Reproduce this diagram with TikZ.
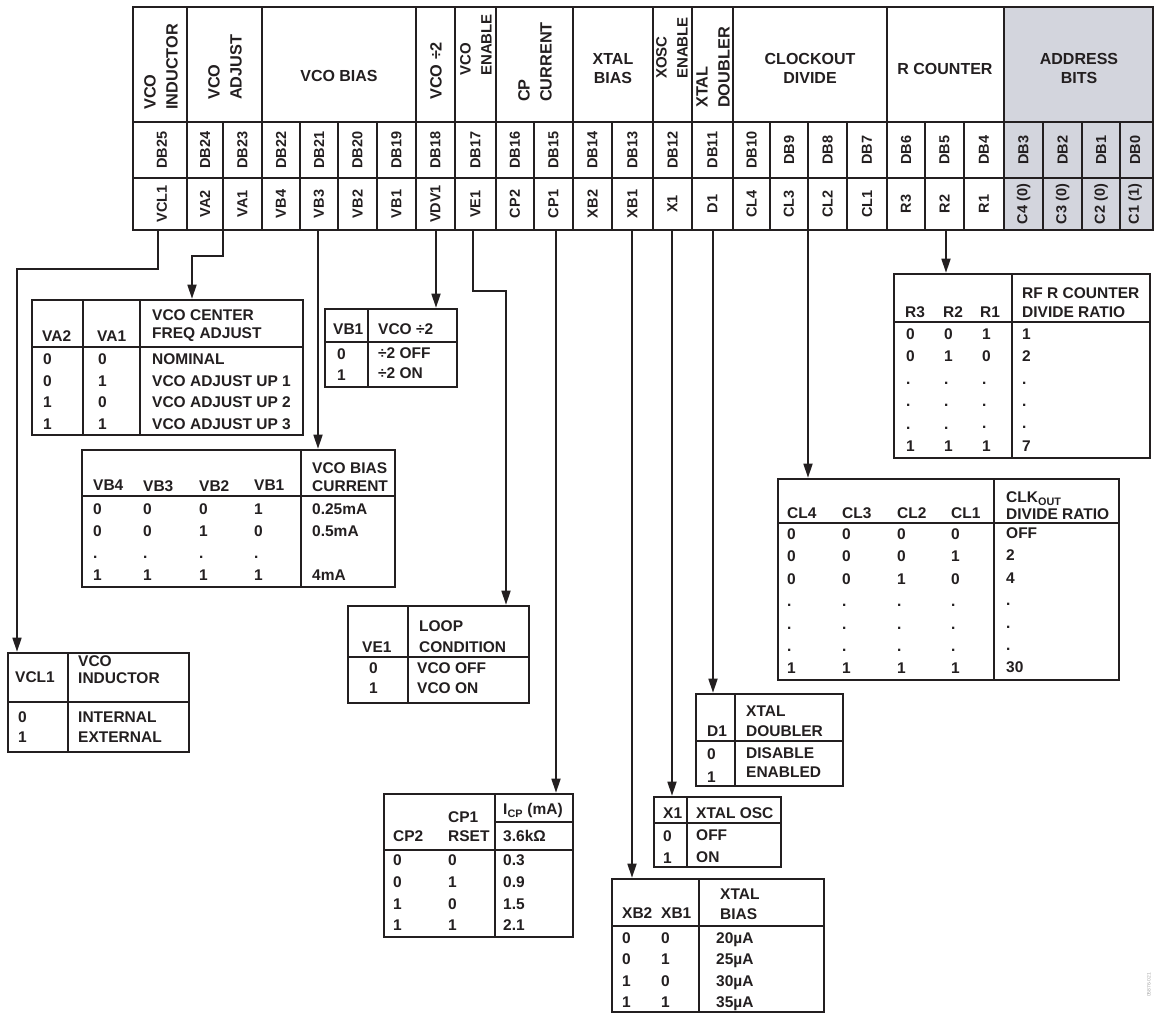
\documentclass[tikz,border=0pt]{standalone}
\usepackage{fontspec}
\setmainfont{Liberation Sans}
\usetikzlibrary{arrows.meta}
\definecolor{ink}{RGB}{35,31,32}
\definecolor{addr}{RGB}{211,213,221}
\begin{document}
\begin{tikzpicture}[x=1pt,y=-1pt,
 every node/.style={inner sep=0pt,text=ink},
 tx/.style={anchor=north west,align=left,font=\fontsize{15.5}{21.5}\selectfont\bfseries},
 lsk/.style={font=\fontsize{15.5}{#1}\selectfont\bfseries},
 rh/.style={rotate=90,anchor=west,align=left,font=\fontsize{16.3}{22}\selectfont\bfseries},
 rhs/.style={rotate=90,anchor=west,align=left,font=\fontsize{15}{21}\selectfont\bfseries},
 hh/.style={align=center,font=\fontsize{16}{19}\selectfont\bfseries},
 rc/.style={rotate=90,font=\fontsize{14.5}{16}\selectfont\bfseries},
 tbl/.style={draw=ink,line width=2.6pt},
 div/.style={draw=ink,line width=1.5pt},
 grp/.style={draw=ink,line width=2.2pt},
 intra/.style={draw=ink,line width=1.2pt},
 conn/.style={draw=ink,line width=1.7pt,-{Triangle[length=14pt,width=9pt]}},
]
\useasboundingbox (0,0) rectangle (1154,1013);

% ---------------- register ----------------
\fill[addr] (1004,7) rectangle (1153,230);
\foreach \x in {223,300,338,377,534,612,770,808,847,925,964,1043,1082,1120}
  \draw[intra] (\x,122) -- (\x,230);
\foreach \x in {187,262,416,455,496,573,653,692,733,887,1004}
  \draw[grp] (\x,7) -- (\x,230);
\draw[draw=ink,line width=1.8pt] (133,122) -- (1153,122) (133,178) -- (1153,178);
\draw[draw=ink,line width=2.6pt] (133,7) rectangle (1153,230);

\node[rh] (hVI) at (161,110) {VCO\\INDUCTOR};
\node[rh] (hVA) at (225,100) {VCO\\ADJUST};
\node[hh] (hVB) at (339,76) {VCO BIAS};
\node[rh] (hVD) at (436,100) {VCO ÷2};
\node[rhs] (hVE) at (476,76) {VCO\\ENABLE};
\node[rh] (hCP) at (535,102) {CP\\CURRENT};
\node[hh] (hXB) at (613,69) {XTAL\\BIAS};
\node[rhs] (hXO) at (672,79) {XOSC\\ENABLE};
\node[rh] (hXD) at (713,108) {XTAL\\DOUBLER};
\node[hh] (hCL) at (810,68) {CLOCKOUT\\DIVIDE};
\node[hh] (hRC) at (945,69) {R COUNTER};
\node[hh] (hAD) at (1079,68) {ADDRESS\\BITS};

\foreach \x/\db/\nm [count=\k] in {162/DB25/VCL1, 205/DB24/VA2, 242.5/DB23/VA1,
  281/DB22/VB4, 319/DB21/VB3, 357.5/DB20/VB2, 396.5/DB19/VB1, 435.5/DB18/VDV1,
  475.5/DB17/VE1, 515/DB16/CP2, 553.5/DB15/CP1, 592.5/DB14/XB2, 632.5/DB13/XB1,
  672.5/DB12/X1, 712.5/DB11/D1, 751.5/DB10/CL4, 789/DB9/CL3, 827.5/DB8/CL2,
  867/DB7/CL1, 906/DB6/R3, 944.5/DB5/R2, 984/DB4/R1, 1023.5/DB3/{C4 (0)},
  1062.5/DB2/{C3 (0)}, 1101/DB1/{C2 (0)}, 1135/DB0/{C1 (1)}}
{
  \node[rc] (db\k) at (\x,150) {\db};
  \node[rc] (bit\k) at (\x,204) {\nm};
}

% ---------------- tables ----------------
% VCO inductor
\node[tbl,minimum width=181pt,minimum height=99pt] (tVCL) at (98.5,702.5) {};
\draw[div] (68,653) -- (68,752) (8,702) -- (189,702);
\node[tx] (vclH1) at (15,671.9) {VCL1};
\node[tx,lsk=17.5] (vclH2) at (78,655.4) {VCO\\INDUCTOR};
\node[tx,lsk=19.5] (vclD1) at (18,711.9) {0\\1};
\node[tx,lsk=19.5] (vclD2) at (78,711.9) {INTERNAL\\EXTERNAL};

% VCO adjust
\node[tbl,minimum width=271pt,minimum height=135pt] (tVA) at (167.5,367.5) {};
\draw[div] (83,300) -- (83,435) (140,300) -- (140,435) (32,347) -- (303,347);
\node[tx] (vaH1) at (42,330.4) {VA2};
\node[tx] (vaH2) at (97,330.4) {VA1};
\node[tx,lsk=18.5] (vaH3) at (152,309.4) {VCO CENTER\\FREQ ADJUST};
\node[tx,lsk=21.5] (vaD1) at (43,353.9) {0\\0\\1\\1};
\node[tx,lsk=21.5] (vaD2) at (98,353.9) {0\\1\\0\\1};
\node[tx,lsk=21.5] (vaD3) at (152,353.9) {NOMINAL\\VCO ADJUST UP 1\\VCO ADJUST UP 2\\VCO ADJUST UP 3};

% VCO divide by 2
\node[tbl,minimum width=132pt,minimum height=78pt] (tVD) at (391,348) {};
\draw[div] (368,309) -- (368,387) (325,342) -- (457,342);
\node[tx] (vdH1) at (333,323.4) {VB1};
\node[tx] (vdH2) at (378,323.4) {VCO ÷2};
\node[tx,lsk=21] (vdD1) at (337,348.4) {0\\1};
\node[tx,lsk=20.5] (vdD2) at (378,347.4) {÷2 OFF\\÷2 ON};

% VCO bias
\node[tbl,minimum width=313pt,minimum height=137pt] (tVB) at (238.5,518.5) {};
\draw[div] (301,450) -- (301,587) (82,496) -- (395,496);
\node[tx] (vbH1) at (93,480) {VB4};
\node[tx] (vbH2) at (143,480) {VB3};
\node[tx] (vbH3) at (199,480) {VB2};
\node[tx] (vbH4) at (254,480) {VB1};
\node[tx,lsk=18] (vbH5) at (312,462.4) {VCO BIAS\\CURRENT};
\node[tx,lsk=22] (vbD1) at (93,503.4) {0\\0\\.\\1};
\node[tx,lsk=22] (vbD2) at (143,503.4) {0\\0\\.\\1};
\node[tx,lsk=22] (vbD3) at (199,503.4) {0\\1\\.\\1};
\node[tx,lsk=22] (vbD4) at (254,503.4) {1\\0\\.\\1};
\node[tx,lsk=22] (vbD5) at (312,503.4) {0.25mA\\0.5mA\\~\\4mA};

% R counter
\node[tbl,minimum width=256pt,minimum height=184pt] (tR) at (1022,366) {};
\draw[div] (1012,274) -- (1012,458) (894,322) -- (1150,322);
\node[tx] (rH1) at (905,306.4) {R3};
\node[tx] (rH2) at (943,306.4) {R2};
\node[tx] (rH3) at (980,306.4) {R1};
\node[tx,lsk=19] (rH4) at (1022,287.4) {RF R COUNTER\\DIVIDE RATIO};
\node[tx,lsk=22.4] (rD1) at (906,328.4) {0\\0\\.\\.\\.\\1};
\node[tx,lsk=22.4] (rD2) at (944,328.4) {0\\1\\.\\.\\.\\1};
\node[tx,lsk=22.4] (rD3) at (982,328.4) {1\\0\\.\\.\\.\\1};
\node[tx,lsk=22.4] (rD4) at (1022,328.4) {1\\2\\.\\.\\.\\7};

% Clockout divide
\node[tbl,minimum width=341pt,minimum height=201pt] (tCLK) at (948.5,579.5) {};
\draw[div] (994,479) -- (994,680) (778,523) -- (1119,523);
\node[tx] (clH1) at (787,507.4) {CL4};
\node[tx] (clH2) at (842,507.4) {CL3};
\node[tx] (clH3) at (897,507.4) {CL2};
\node[tx] (clH4) at (951,507.4) {CL1};
\node[tx,lsk=17] (clH5) at (1006,491.4) {CLK\textsubscript{OUT}\\DIVIDE RATIO};
\node[tx,lsk=22.4] (clD1) at (787,528.4) {0\\0\\0\\.\\.\\.\\1};
\node[tx,lsk=22.4] (clD2) at (842,528.4) {0\\0\\0\\.\\.\\.\\1};
\node[tx,lsk=22.4] (clD3) at (897,528.4) {0\\0\\1\\.\\.\\.\\1};
\node[tx,lsk=22.4] (clD4) at (951,528.4) {0\\1\\0\\.\\.\\.\\1};
\node[tx,lsk=22.4] (clD5) at (1006,527.4) {OFF\\2\\4\\.\\.\\.\\30};

% VCO enable
\node[tbl,minimum width=181pt,minimum height=97pt] (tVE) at (438.5,654.5) {};
\draw[div] (408,606) -- (408,703) (348,657) -- (529,657);
\node[tx] (veH1) at (362,641.4) {VE1};
\node[tx,lsk=21] (veH2) at (419,620.4) {LOOP\\CONDITION};
\node[tx,lsk=20] (veD1) at (369,662) {0\\1};
\node[tx,lsk=20] (veD2) at (417,662) {VCO OFF\\VCO ON};

% CP current
\node[tbl,minimum width=189pt,minimum height=143pt] (tICP) at (478.5,865.5) {};
\draw[div] (495,794) -- (495,937) (495,822) -- (573,822) (384,850) -- (573,850);
\node[tx] (cpH1) at (393,830.4) {CP2};
\node[tx,lsk=19] (cpH2) at (448,811.4) {CP1\\RSET};
\node[tx] (cpH3) at (503,803) {I\textsubscript{CP} (mA)};
\node[tx] (cpH4) at (503,830.4) {3.6kΩ};
\node[tx,lsk=21.8] (cpD1) at (393,854.4) {0\\0\\1\\1};
\node[tx,lsk=21.8] (cpD2) at (448,854.4) {0\\1\\0\\1};
\node[tx,lsk=21.8] (cpD3) at (503,854.4) {0.3\\0.9\\1.5\\2.1};

% XOSC enable
\node[tbl,minimum width=127pt,minimum height=70pt] (tX1) at (717.5,832) {};
\draw[div] (687,797) -- (687,867) (654,823) -- (781,823);
\node[tx] (x1H1) at (663,807.4) {X1};
\node[tx] (x1H2) at (696,807.4) {XTAL OSC};
\node[tx,lsk=22.5] (x1D1) at (663,830.4) {0\\1};
\node[tx,lsk=22] (x1D2) at (696,829.4) {OFF\\ON};

% XTAL doubler
\node[tbl,minimum width=147pt,minimum height=92pt] (tD1) at (769.5,740) {};
\draw[div] (735,694) -- (735,786) (696,741) -- (843,741);
\node[tx] (d1H1) at (707,726) {D1};
\node[tx,lsk=20] (d1H2) at (746,706) {XTAL\\DOUBLER};
\node[tx,lsk=23] (d1D1) at (707,748) {0\\1};
\node[tx,lsk=19] (d1D2) at (746,747.5) {DISABLE\\ENABLED};

% XTAL bias
\node[tbl,minimum width=212pt,minimum height=133pt] (tXB) at (718,945.5) {};
\draw[div] (699,879) -- (699,1012) (612,926) -- (824,926);
\node[tx] (xbH1) at (622,907.9) {XB2};
\node[tx] (xbH2) at (661,907.9) {XB1};
\node[tx,lsk=20] (xbH3) at (720,888.4) {XTAL\\BIAS};
\node[tx,lsk=21.3] (xbD1) at (622,932.4) {0\\0\\1\\1};
\node[tx,lsk=21.3] (xbD2) at (661,932.4) {0\\1\\0\\1};
\node[tx,lsk=21.3] (xbD3) at (716,932.4) {20µA\\25µA\\30µA\\35µA};

% ---------------- connectors ----------------
\coordinate (sVCL) at (158,231);
\coordinate (vcl1) at (158,269);
\coordinate (vcl2) at (17,269);
\draw[conn] (sVCL) -- (vcl1) -- (vcl2) -- (vcl2 |- tVCL.north);

\coordinate (sVA) at (223,231);
\coordinate (va1) at (223,256);
\coordinate (va2) at (192,256);
\draw[conn] (sVA) -- (va1) -- (va2) -- (va2 |- tVA.north);

\coordinate (sVB) at (318,231);
\draw[conn] (sVB) -- (sVB |- tVB.north);

\coordinate (sVD) at (436,231);
\draw[conn] (sVD) -- (sVD |- tVD.north);

\coordinate (sVE) at (473,231);
\coordinate (ve1) at (473,291);
\coordinate (ve2) at (506,291);
\draw[conn] (sVE) -- (ve1) -- (ve2) -- (ve2 |- tVE.north);

\coordinate (sCP) at (556,231);
\draw[conn] (sCP) -- (sCP |- tICP.north);

\coordinate (sXB) at (632,231);
\draw[conn] (sXB) -- (sXB |- tXB.north);

\coordinate (sX1) at (672,231);
\draw[conn] (sX1) -- (sX1 |- tX1.north);

\coordinate (sD1) at (713,231);
\draw[conn] (sD1) -- (sD1 |- tD1.north);

\coordinate (sCL) at (808,231);
\draw[conn] (sCL) -- (sCL |- tCLK.north);

\coordinate (sR) at (946,231);
\draw[conn] (sR) -- (sR |- tR.north);

\node[rotate=90,font=\fontsize{5}{6}\selectfont,text=black!35] (figid) at (1149,985) {05876-021};
\end{tikzpicture}
\end{document}
